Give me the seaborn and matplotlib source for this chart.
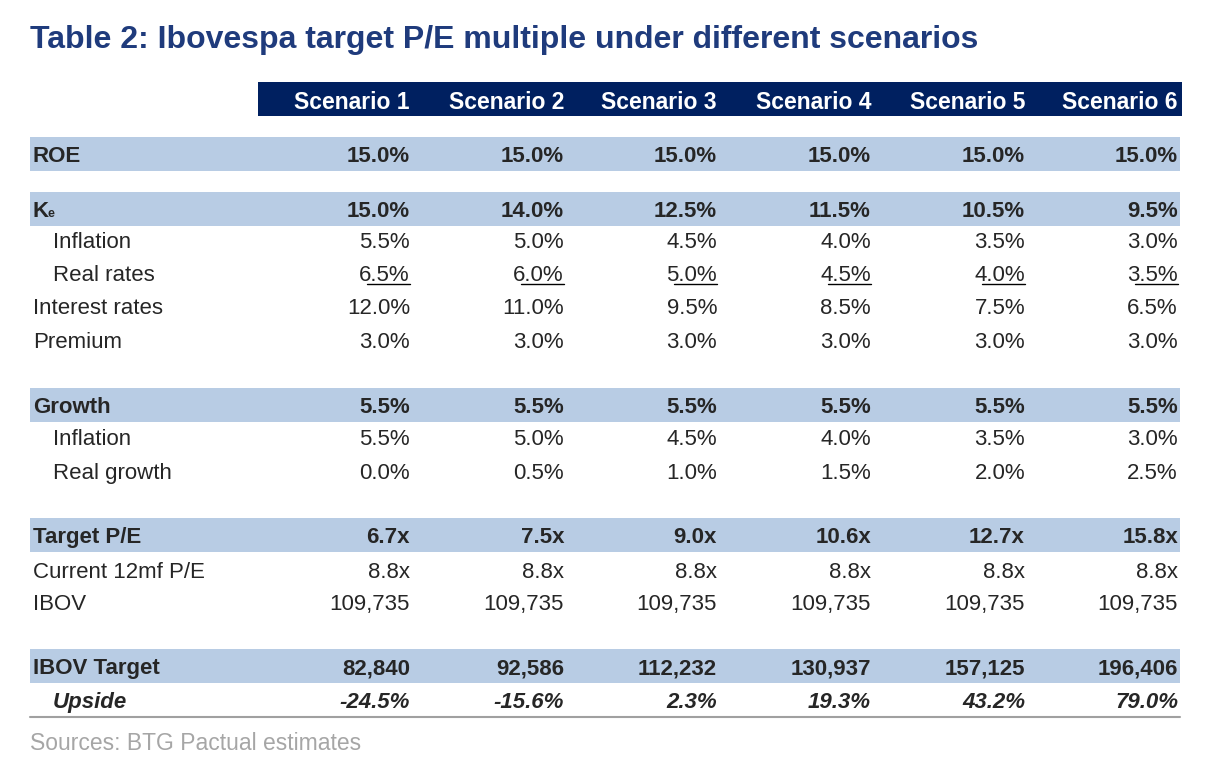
import matplotlib.pyplot as plt
import seaborn as sns

sns.set_style("white")
plt.rcParams.update({
    "font.family": ["Liberation Sans", "DejaVu Sans"],
    "font.size": 16,
})

SCENARIOS = ["Scenario 1", "Scenario 2", "Scenario 3", "Scenario 4", "Scenario 5", "Scenario 6"]
COL_RIGHT = [410, 564, 717, 871, 1025, 1178]

# (label, values, y, style) style: band / plain / sub / under / italic
ROWS = [
    ("ROE", ["15.0%"] * 6, 154, "band"),
    ("K", ["15.0%", "14.0%", "12.5%", "11.5%", "10.5%", "9.5%"], 209, "band"),
    ("Inflation", ["5.5%", "5.0%", "4.5%", "4.0%", "3.5%", "3.0%"], 240, "sub"),
    ("Real rates", ["6.5%", "6.0%", "5.0%", "4.5%", "4.0%", "3.5%"], 273, "under"),
    ("Interest rates", ["12.0%", "11.0%", "9.5%", "8.5%", "7.5%", "6.5%"], 306, "plain"),
    ("Premium", ["3.0%"] * 6, 340, "plain"),
    ("Growth", ["5.5%"] * 6, 405, "band"),
    ("Inflation", ["5.5%", "5.0%", "4.5%", "4.0%", "3.5%", "3.0%"], 437, "sub"),
    ("Real growth", ["0.0%", "0.5%", "1.0%", "1.5%", "2.0%", "2.5%"], 471, "sub"),
    ("Target P/E", ["6.7x", "7.5x", "9.0x", "10.6x", "12.7x", "15.8x"], 535, "band"),
    ("Current 12mf P/E", ["8.8x"] * 6, 570, "plain"),
    ("IBOV", ["109,735"] * 6, 602, "plain"),
    ("IBOV Target", ["82,840", "92,586", "112,232", "130,937", "157,125", "196,406"], 666, "band"),
    ("Upside", ["-24.5%", "-15.6%", "2.3%", "19.3%", "43.2%", "79.0%"], 700, "italic"),
]

fig, ax = plt.subplots(figsize=(12.24, 7.78), dpi=100)
fig.subplots_adjust(0, 0, 1, 1)
ax.set_xlim(0, 1224)
ax.set_ylim(778, 0)
ax.axis("off")

ax.text(30, 40, "Table 2: Ibovespa target P/E multiple under different scenarios",
        fontsize=23, fontweight="bold", color="#1F3B7C", va="center")

ax.fill_between([258, 1182], 82, 116, color="#002060", lw=0)
for name, x in zip(SCENARIOS, COL_RIGHT):
    ax.text(x, 100, name, ha="right", va="center_baseline", color="white", fontweight="bold", fontsize=16.5)

for label, values, y, style in ROWS:
    weight = "bold" if style in ("band", "italic") else "normal"
    fstyle = "italic" if style == "italic" else "normal"
    if style == "band":
        ax.fill_between([30, 1180], y - 17, y + 17, color="#B8CCE4", lw=0)
    lx = 53 if style in ("sub", "under", "italic") else 33
    ax.text(lx, y, label, va="center_baseline", fontweight=weight, style=fstyle)
    if label == "K":
        ax.text(47, y + 5, "e", va="center", fontsize=9, fontweight="bold")
    for v, x in zip(values, COL_RIGHT):
        ax.text(x, y, v, ha="right", va="center_baseline", fontweight=weight, style=fstyle)
        if style == "under":
            w = 10.8 * len(v)
            ax.plot([x - w, x], [y + 11, y + 11], color="black", lw=1)

ax.plot([30, 1180], [717, 717], color="#A0A0A0", lw=1.5)
ax.text(30, 741, "Sources: BTG Pactual estimates", va="center_baseline", color="#A6A6A6", fontsize=16.5)

plt.savefig("out.png", dpi=100)
